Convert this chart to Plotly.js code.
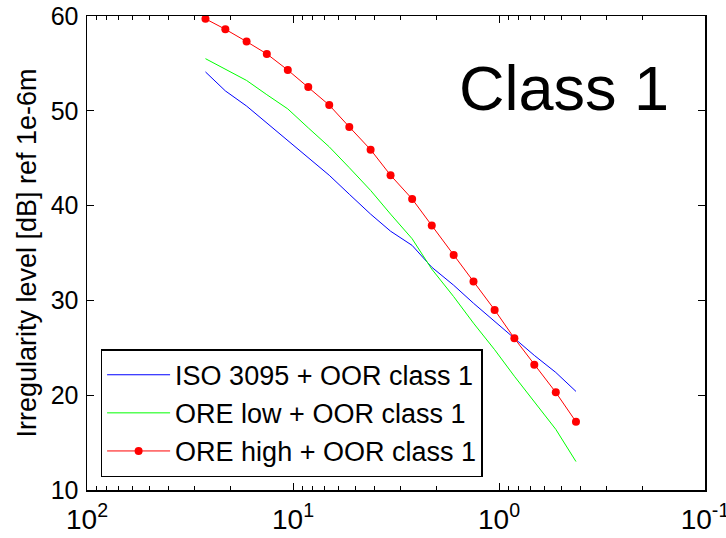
<!DOCTYPE html>
<html>
<head>
<meta charset="utf-8">
<script src="https://cdn.plot.ly/plotly-3.0.1.min.js"></script>
<style>html,body{margin:0;padding:0;background:#fff;}#chart{width:726px;height:538px;}</style>
</head>
<body>
<div id="chart"></div>
<script>
// Wavelength [m] (1/3-octave bands)
var wavelength = [26.6, 21.3, 16.8, 13.4, 10.6, 8.43, 6.67, 5.33, 4.20, 3.36, 2.64, 2.12, 1.66, 1.33, 1.05, 0.842, 0.674, 0.530, 0.423];
var isoClass1  = [54.1, 52.1, 50.5, 48.7, 46.8, 45.0, 43.2, 41.2, 39.1, 37.3, 35.8, 33.5, 31.6, 29.7, 27.8, 26.0, 24.2, 22.4, 20.4];
var oreLow     = [55.5, 54.4, 53.2, 51.7, 50.2, 48.2, 46.2, 44.0, 41.6, 39.1, 36.5, 33.3, 30.4, 27.6, 24.8, 22.0, 19.3, 16.4, 13.0];
var oreHigh    = [59.7, 58.6, 57.3, 56.0, 54.3, 52.5, 50.6, 48.3, 45.9, 43.2, 40.7, 37.9, 34.8, 32.0, 29.0, 26.0, 23.2, 20.3, 17.2];
var seriesNames = ['ISO 3095 + OOR class 1', 'ORE low + OOR class 1', 'ORE high + OOR class 1'];
var xTickVals = [100, 10, 1, 0.1];
var xTickText = ['10<sup>2</sup>', '10<sup>1</sup>', '10<sup>0</sup>', '10<sup>-1</sup>'];
var yTickVals = [10, 20, 30, 40, 50, 60];
var yTitle = 'Irregularity level [dB] ref 1e-6m';
var panelLabel = 'Class 1';

var FONT = 'Liberation Sans, Arial, Helvetica, sans-serif';

// minor log ticks 2..9 within each decade (axis decoration)
var minorVals = [];
[0.1, 1, 10].forEach(function (d) {
  for (var k = 2; k <= 9; k++) minorVals.push(k * d);
});

var traces = [
  {x: wavelength, y: isoClass1, name: seriesNames[0], mode: 'lines',
   line: {color: '#0000ff', width: 1}},
  {x: wavelength, y: oreLow, name: seriesNames[1], mode: 'lines',
   line: {color: '#00ff00', width: 1}},
  {x: wavelength, y: oreHigh, name: seriesNames[2], mode: 'lines+markers',
   line: {color: '#ff0000', width: 1}, marker: {color: '#ff0000', size: 8}}
];

var layout = {
  width: 726, height: 538,
  margin: {l: 87, r: 21, t: 16, b: 48, pad: 0},
  paper_bgcolor: '#ffffff', plot_bgcolor: '#ffffff',
  font: {family: FONT, color: '#000000'},
  showlegend: true,
  xaxis: {
    type: 'log', range: [2.00001, -1.00001], autorange: false,
    tickmode: 'array', tickvals: xTickVals, ticktext: xTickText,
    ticks: 'inside', ticklen: 7, tickwidth: 1, tickcolor: '#000',
    showline: true, linecolor: '#000', linewidth: 1.5, mirror: 'allticks',
    showgrid: false, zeroline: false, ticklabeloverflow: 'allow',
    tickfont: {family: FONT, size: 28, color: '#000'},
    ticklabelstandoff: 4,
    minor: {tickmode: 'array', tickvals: minorVals, ticks: 'inside', ticklen: 4,
            tickwidth: 1, tickcolor: '#000', showgrid: false}
  },
  yaxis: {
    range: [10, 60], autorange: false,
    tickmode: 'array', tickvals: yTickVals,
    ticks: 'inside', ticklen: 7, tickwidth: 1, tickcolor: '#000',
    showline: true, linecolor: '#000', linewidth: 1.5, mirror: 'allticks',
    showgrid: false, zeroline: false,
    tickfont: {family: FONT, size: 25, color: '#000'},
    ticklabelstandoff: 2,
    title: {text: yTitle, font: {family: FONT, size: 27, color: '#000'}, standoff: 6}
  },
  legend: {
    x: 0.022, y: 0.027, xanchor: 'left', yanchor: 'bottom',
    bgcolor: '#ffffff', bordercolor: '#000', borderwidth: 1.5,
    font: {family: FONT, size: 27, color: '#000'},
    itemwidth: 63, traceorder: 'normal'
  },
  annotations: [{
    text: panelLabel, xref: 'paper', yref: 'paper', x: 0.772, y: 0.849,
    xanchor: 'center', yanchor: 'middle', showarrow: false,
    font: {family: FONT, size: 63, color: '#000'}
  }]
};

Plotly.newPlot('chart', traces, layout, {displayModeBar: false, staticPlot: true});
</script>
</body>
</html>
